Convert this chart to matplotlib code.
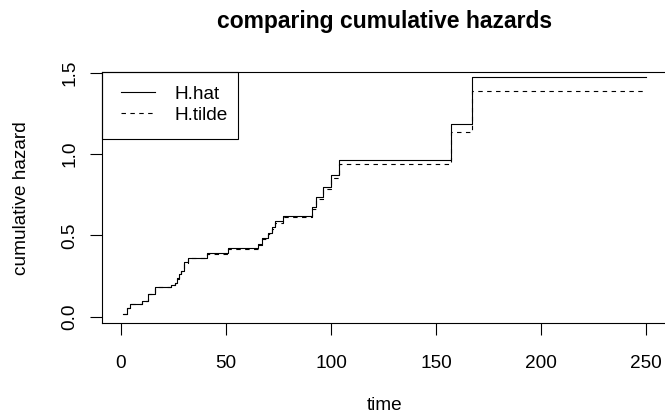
import matplotlib
matplotlib.use("Agg")
import matplotlib.pyplot as plt
from matplotlib.patches import Rectangle

plt.rcParams['font.family'] = ['Liberation Sans', 'DejaVu Sans']

# data
time = [1, 3, 4.3, 10, 13, 16, 24, 25.5, 26.5, 27.5, 28.5, 30, 32, 41, 51,
        65, 67, 70, 72, 73.5, 77, 91, 93, 96, 100, 104, 157, 167, 250]
H_hat = [0.015, 0.055, 0.076, 0.098, 0.140, 0.184, 0.195, 0.210, 0.236, 0.262,
         0.283, 0.334, 0.363, 0.392, 0.420, 0.445, 0.482, 0.516, 0.549, 0.586,
         0.621, 0.676, 0.734, 0.799, 0.873, 0.961, 1.186, 1.475, 1.475]
H_tilde = [0.015, 0.054, 0.075, 0.097, 0.138, 0.182, 0.193, 0.208, 0.233, 0.259,
           0.280, 0.330, 0.358, 0.387, 0.414, 0.439, 0.475, 0.508, 0.540, 0.576,
           0.615, 0.665, 0.721, 0.784, 0.855, 0.938, 1.137, 1.389, 1.389]
xticks = [0, 50, 100, 150, 200, 250]
yticks = [0.0, 0.5, 1.0, 1.5]
ytick_labels = ["0.0", "0.5", "1.0", "1.5"]
series_labels = ["H.hat", "H.tilde"]

FS = 13.7
W, H = 665, 415
fig = plt.figure(figsize=(W / 100, H / 100), dpi=100)
ax = fig.add_axes([102 / W, (H - 323.3) / H, 565 / W, 251.3 / H])

ax.step(time, H_hat, where='post', color='black', lw=0.8, label=series_labels[0])
ax.step(time, H_tilde, where='post', color='black', lw=0.8,
        linestyle=(0, (4, 4)), label=series_labels[1])

ax.set_xlim(-9.05, 260)
ax.set_ylim(-0.0406, 1.504)

ax.spines['right'].set_visible(False)
for s in ('left', 'top', 'bottom'):
    ax.spines[s].set_linewidth(0.8)

ax.set_xticks(xticks)
ax.set_yticks(yticks)
ax.set_yticklabels(ytick_labels, rotation=90, va='center')
ax.tick_params(axis='both', direction='out', length=8.6, width=0.8,
               labelsize=FS, color='black')
ax.tick_params(axis='x', pad=14)
ax.tick_params(axis='y', pad=8.6)

ax.set_xlabel("time", fontsize=FS)
ax.xaxis.set_label_coords(0.5, (323.3 - 409.5) / 251.3)
ax.xaxis.label.set_va('baseline')
ax.set_ylabel("cumulative hazard", fontsize=FS)
ax.yaxis.set_label_coords((22 - 102) / 565, 0.5)
ax.yaxis.label.set_va('center')

ax.set_title("comparing cumulative hazards", fontsize=FS * 1.2, fontweight='bold',
             y=(323.3 - 28) / 251.3, va='baseline', pad=0)

# legend
leg = ax.legend(loc='upper left', bbox_to_anchor=((121 - 102) / 565, (323.3 - 85.5) / 251.3),
                frameon=False, fontsize=FS, borderpad=0, borderaxespad=0,
                handlelength=1.79, handletextpad=1.0, labelspacing=0.18)
ax.add_patch(Rectangle((0, (323.3 - 139) / 251.3), (238 - 102) / 565,
                       1 - (323.3 - 139) / 251.3, transform=ax.transAxes,
                       fill=False, edgecolor='black', lw=0.8, clip_on=False, zorder=5))

fig.savefig("out.png", dpi=100)
